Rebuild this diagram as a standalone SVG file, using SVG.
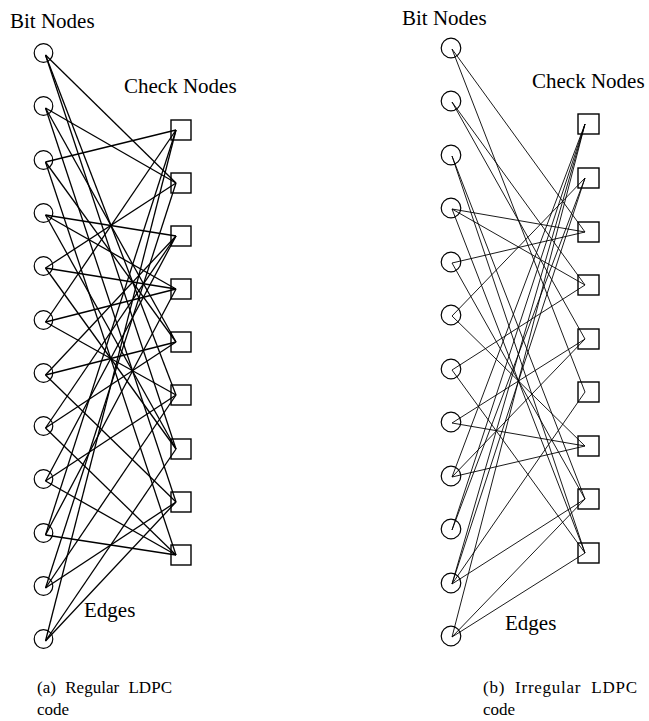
<svg xmlns="http://www.w3.org/2000/svg" width="649" height="721" viewBox="0 0 649 721">
<style>
.lbl{font-family:"Liberation Serif","Times New Roman",serif;font-size:21px;fill:#000}
.cap{font-family:"Liberation Serif","Times New Roman",serif;font-size:17px;fill:#000;word-spacing:5px}
.bit{fill:none;stroke:#000;stroke-width:1.2}
.chk{fill:none;stroke:#000;stroke-width:1.4}
.eL line{stroke:#000;stroke-width:1.3}
.eR line{stroke:#000;stroke-width:0.9}
</style>
<rect width="649" height="721" fill="#fff"/>
<text class="lbl" x="10" y="28">Bit Nodes</text>
<text class="lbl" x="124" y="93">Check Nodes</text>
<text class="lbl" x="84" y="617">Edges</text>
<text class="lbl" x="402" y="25">Bit Nodes</text>
<text class="lbl" x="532" y="88">Check Nodes</text>
<text class="lbl" x="505" y="630">Edges</text>
<text class="cap" x="37" y="693" textLength="135" lengthAdjust="spacing">(a) Regular LDPC</text>
<text class="cap" x="37" y="715">code</text>
<text class="cap" x="483" y="693" textLength="154" lengthAdjust="spacing">(b) Irregular LDPC</text>
<text class="cap" x="483" y="715">code</text>
<g id="edges-left" class="eL">
<line x1="45.5" y1="55" x2="176" y2="183"/><line x1="45.5" y1="55" x2="176" y2="395"/><line x1="45.5" y1="55" x2="176" y2="449"/>
<line x1="45.5" y1="108" x2="176" y2="183"/><line x1="45.5" y1="108" x2="176" y2="342"/><line x1="45.5" y1="108" x2="176" y2="502"/>
<line x1="45.5" y1="162" x2="176" y2="130"/><line x1="45.5" y1="162" x2="176" y2="342"/><line x1="45.5" y1="162" x2="176" y2="555"/>
<line x1="45.5" y1="215" x2="176" y2="236"/><line x1="45.5" y1="215" x2="176" y2="449"/><line x1="45.5" y1="215" x2="176" y2="289"/>
<line x1="45.5" y1="268" x2="176" y2="183"/><line x1="45.5" y1="268" x2="176" y2="289"/><line x1="45.5" y1="268" x2="176" y2="449"/>
<line x1="45.5" y1="322" x2="176" y2="289"/><line x1="45.5" y1="322" x2="176" y2="130"/><line x1="45.5" y1="322" x2="176" y2="395"/>
<line x1="45.5" y1="375" x2="176" y2="342"/><line x1="45.5" y1="375" x2="176" y2="236"/><line x1="45.5" y1="375" x2="176" y2="502"/>
<line x1="45.5" y1="428" x2="176" y2="555"/><line x1="45.5" y1="428" x2="176" y2="236"/><line x1="45.5" y1="428" x2="176" y2="342"/>
<line x1="45.5" y1="481" x2="176" y2="555"/><line x1="45.5" y1="481" x2="176" y2="395"/><line x1="45.5" y1="481" x2="176" y2="236"/>
<line x1="45.5" y1="535" x2="176" y2="555"/><line x1="45.5" y1="535" x2="176" y2="289"/><line x1="45.5" y1="535" x2="176" y2="130"/>
<line x1="45.5" y1="588" x2="176" y2="502"/><line x1="45.5" y1="588" x2="176" y2="183"/><line x1="45.5" y1="588" x2="176" y2="395"/>
<line x1="45.5" y1="641" x2="176" y2="502"/><line x1="45.5" y1="641" x2="176" y2="130"/><line x1="45.5" y1="641" x2="176" y2="449"/>
</g>
<g id="edges-right" class="eR">
<line x1="452" y1="49" x2="585" y2="232"/><line x1="452" y1="49" x2="585" y2="392"/>
<line x1="452" y1="102" x2="585" y2="285"/><line x1="452" y1="102" x2="585" y2="339"/>
<line x1="452" y1="156" x2="585" y2="499"/><line x1="452" y1="156" x2="585" y2="553"/>
<line x1="452" y1="209" x2="585" y2="232"/><line x1="452" y1="209" x2="585" y2="285"/><line x1="452" y1="209" x2="585" y2="553"/>
<line x1="452" y1="263" x2="585" y2="232"/><line x1="452" y1="263" x2="585" y2="499"/>
<line x1="452" y1="316" x2="585" y2="178"/><line x1="452" y1="316" x2="585" y2="446"/>
<line x1="452" y1="370" x2="585" y2="285"/><line x1="452" y1="370" x2="585" y2="553"/>
<line x1="452" y1="423" x2="585" y2="339"/><line x1="452" y1="423" x2="585" y2="446"/>
<line x1="452" y1="477" x2="585" y2="124"/><line x1="452" y1="477" x2="585" y2="446"/><line x1="452" y1="477" x2="585" y2="339"/>
<line x1="452" y1="530" x2="585" y2="124"/><line x1="452" y1="530" x2="585" y2="178"/>
<line x1="452" y1="584" x2="585" y2="499"/><line x1="452" y1="584" x2="585" y2="178"/><line x1="452" y1="584" x2="585" y2="124"/><line x1="452" y1="584" x2="585" y2="392"/>
<line x1="452" y1="637" x2="585" y2="124"/><line x1="452" y1="637" x2="585" y2="499"/><line x1="452" y1="637" x2="585" y2="553"/>
</g>
<g id="bitL1"><circle class="bit" cx="43.5" cy="53" r="9.3"/></g>
<g id="bitL2"><circle class="bit" cx="43.5" cy="106" r="9.3"/></g>
<g id="bitL3"><circle class="bit" cx="43.5" cy="160" r="9.3"/></g>
<g id="bitL4"><circle class="bit" cx="43.5" cy="213" r="9.3"/></g>
<g id="bitL5"><circle class="bit" cx="43.5" cy="266" r="9.3"/></g>
<g id="bitL6"><circle class="bit" cx="43.5" cy="320" r="9.3"/></g>
<g id="bitL7"><circle class="bit" cx="43.5" cy="373" r="9.3"/></g>
<g id="bitL8"><circle class="bit" cx="43.5" cy="426" r="9.3"/></g>
<g id="bitL9"><circle class="bit" cx="43.5" cy="479" r="9.3"/></g>
<g id="bitL10"><circle class="bit" cx="43.5" cy="533" r="9.3"/></g>
<g id="bitL11"><circle class="bit" cx="43.5" cy="586" r="9.3"/></g>
<g id="bitL12"><circle class="bit" cx="43.5" cy="639" r="9.3"/></g>
<g id="chkL1"><rect class="chk" x="171" y="120" width="20" height="20"/></g>
<g id="chkL2"><rect class="chk" x="171" y="173" width="20" height="20"/></g>
<g id="chkL3"><rect class="chk" x="171" y="226" width="20" height="20"/></g>
<g id="chkL4"><rect class="chk" x="171" y="279" width="20" height="20"/></g>
<g id="chkL5"><rect class="chk" x="171" y="332" width="20" height="20"/></g>
<g id="chkL6"><rect class="chk" x="171" y="385" width="20" height="20"/></g>
<g id="chkL7"><rect class="chk" x="171" y="439" width="20" height="20"/></g>
<g id="chkL8"><rect class="chk" x="171" y="492" width="20" height="20"/></g>
<g id="chkL9"><rect class="chk" x="171" y="545" width="20" height="20"/></g>
<g id="bitR1"><circle class="bit" cx="451" cy="48" r="9.8"/></g>
<g id="bitR2"><circle class="bit" cx="451" cy="101" r="9.8"/></g>
<g id="bitR3"><circle class="bit" cx="451" cy="155" r="9.8"/></g>
<g id="bitR4"><circle class="bit" cx="451" cy="208" r="9.8"/></g>
<g id="bitR5"><circle class="bit" cx="451" cy="262" r="9.8"/></g>
<g id="bitR6"><circle class="bit" cx="451" cy="315" r="9.8"/></g>
<g id="bitR7"><circle class="bit" cx="451" cy="369" r="9.8"/></g>
<g id="bitR8"><circle class="bit" cx="451" cy="422" r="9.8"/></g>
<g id="bitR9"><circle class="bit" cx="451" cy="476" r="9.8"/></g>
<g id="bitR10"><circle class="bit" cx="451" cy="529" r="9.8"/></g>
<g id="bitR11"><circle class="bit" cx="451" cy="583" r="9.8"/></g>
<g id="bitR12"><circle class="bit" cx="451" cy="636" r="9.8"/></g>
<g id="chkR1"><rect class="chk" x="578" y="114" width="21" height="20"/></g>
<g id="chkR2"><rect class="chk" x="578" y="168" width="21" height="20"/></g>
<g id="chkR3"><rect class="chk" x="578" y="222" width="21" height="20"/></g>
<g id="chkR4"><rect class="chk" x="578" y="275" width="21" height="20"/></g>
<g id="chkR5"><rect class="chk" x="578" y="329" width="21" height="20"/></g>
<g id="chkR6"><rect class="chk" x="578" y="382" width="21" height="20"/></g>
<g id="chkR7"><rect class="chk" x="578" y="436" width="21" height="20"/></g>
<g id="chkR8"><rect class="chk" x="578" y="489" width="21" height="20"/></g>
<g id="chkR9"><rect class="chk" x="578" y="543" width="21" height="20"/></g>
</svg>
